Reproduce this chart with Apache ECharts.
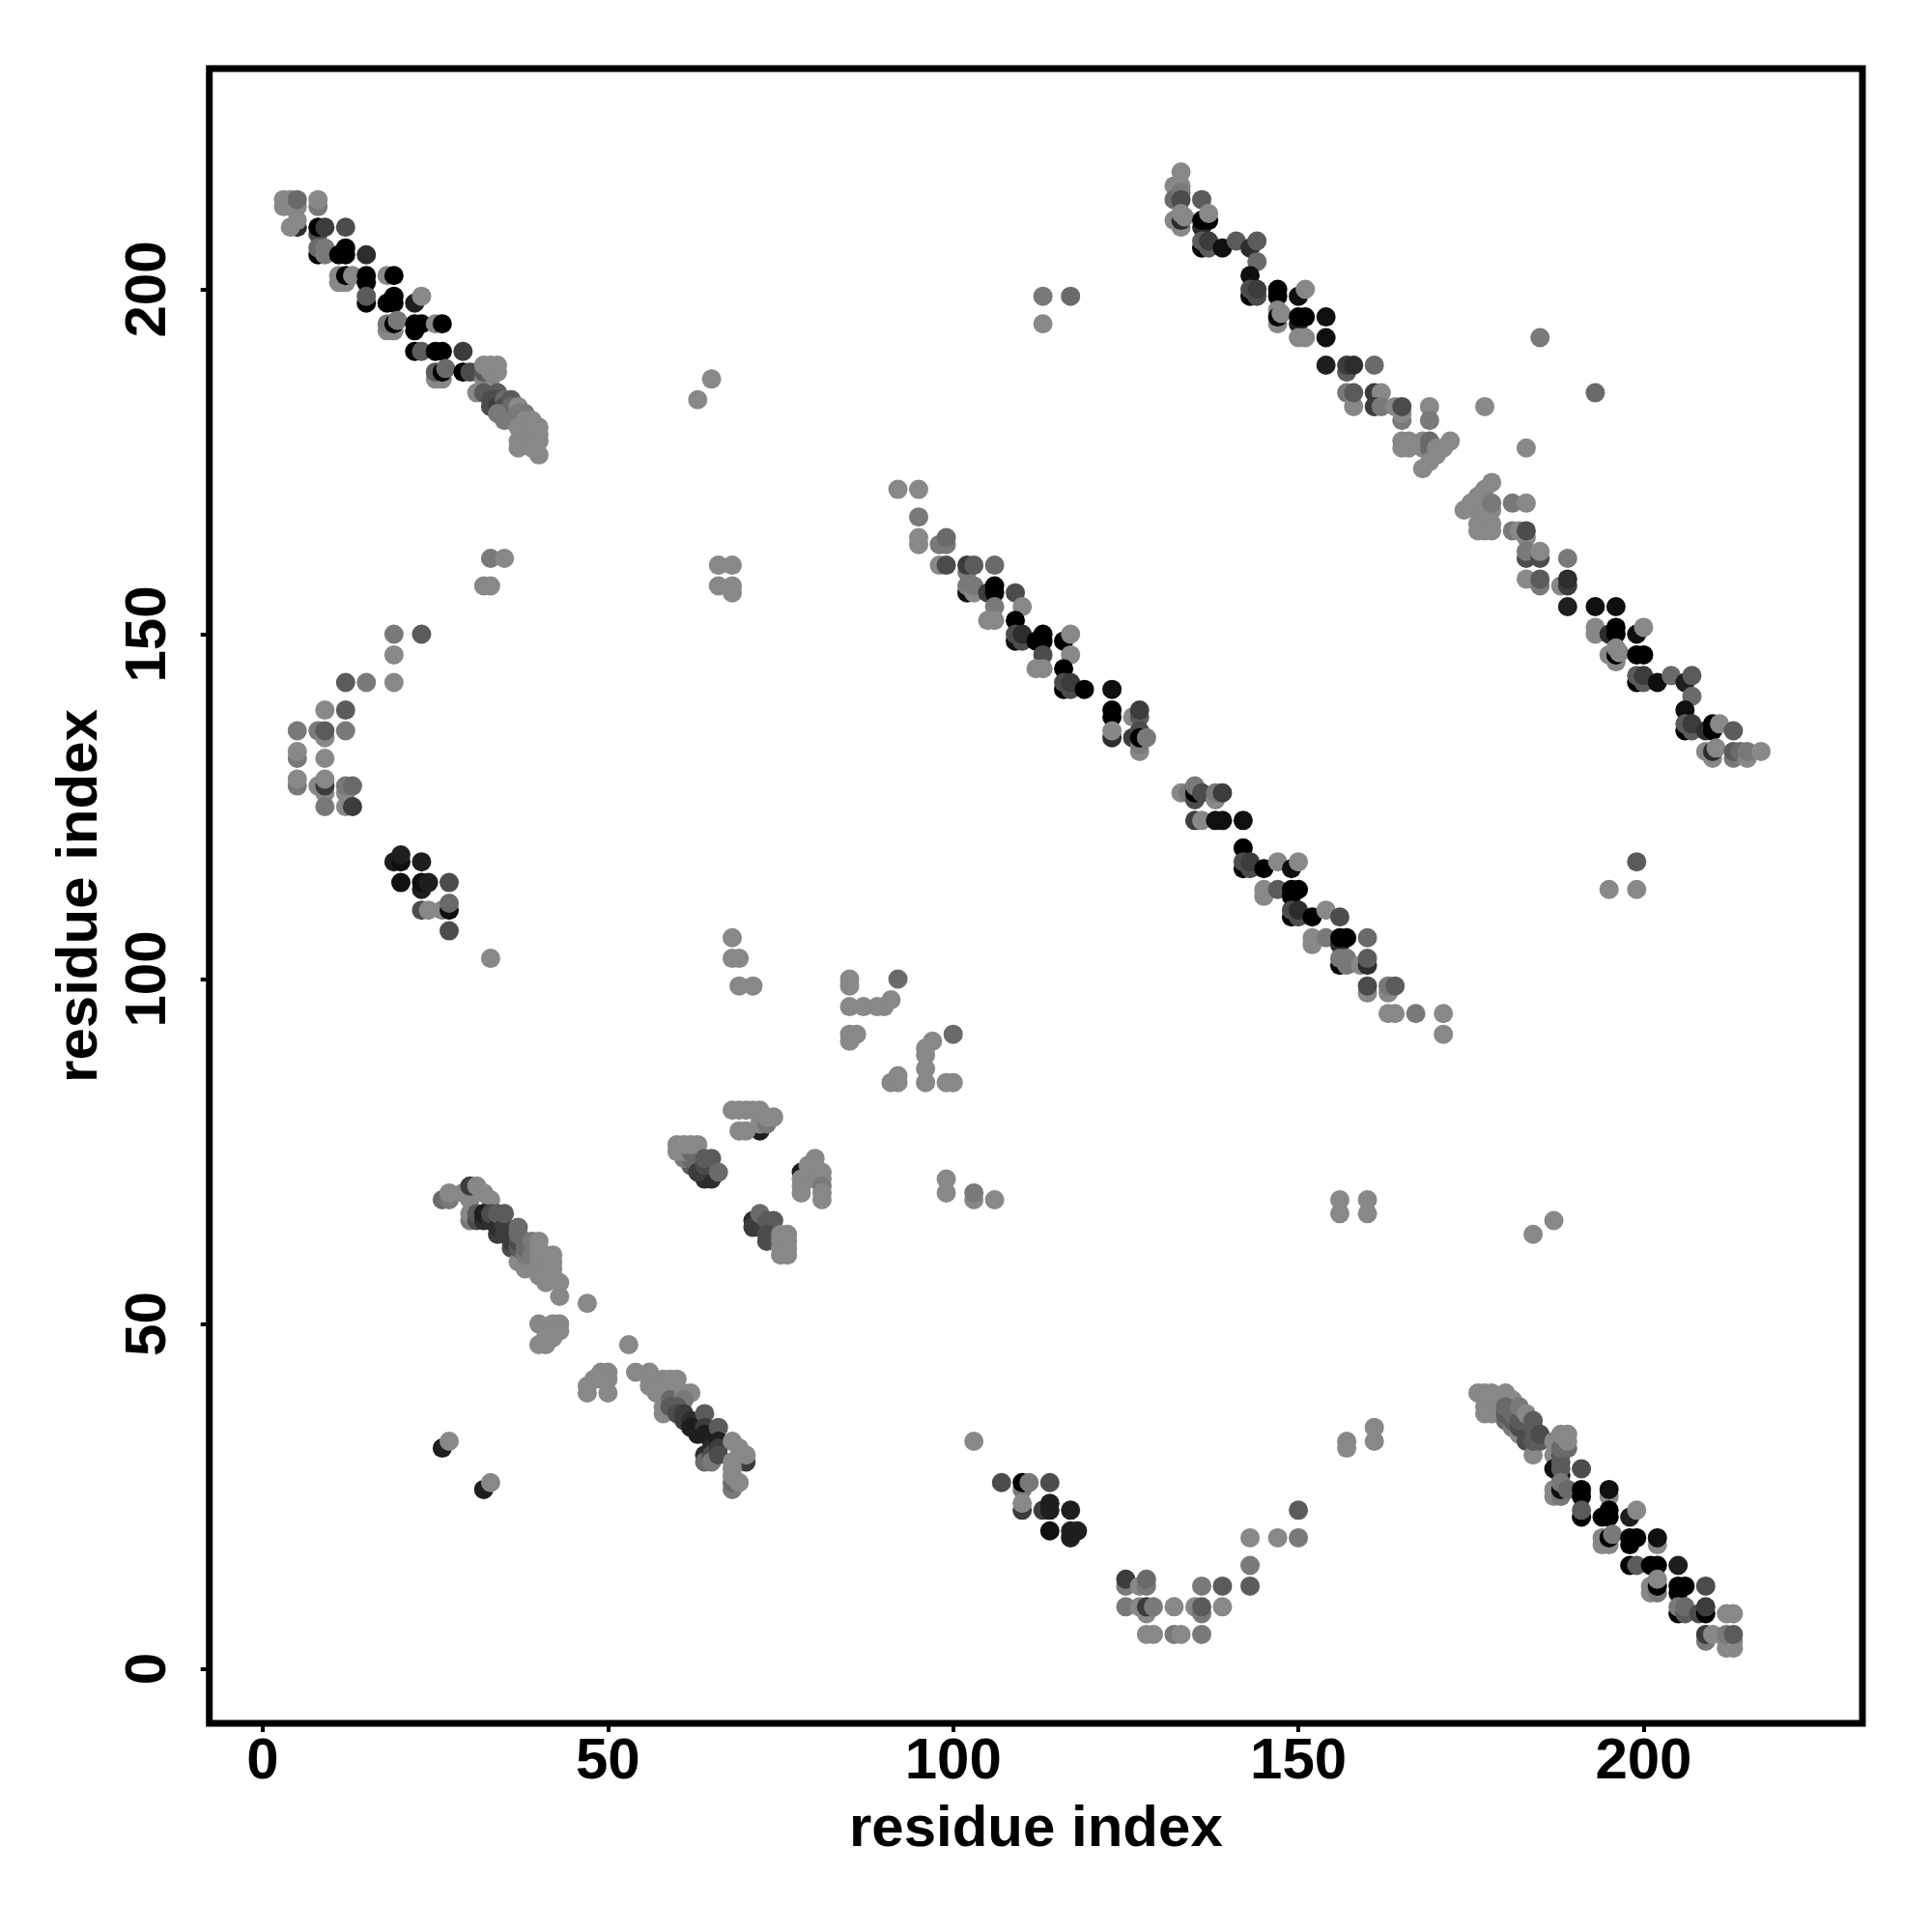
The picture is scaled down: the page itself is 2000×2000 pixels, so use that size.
<!DOCTYPE html>
<html>
<head>
<meta charset="utf-8">
<style>html,body{margin:0;padding:0;background:#fff}#c{width:2000px;height:2000px}</style>
<script src="https://cdn.jsdelivr.net/npm/echarts@6/dist/echarts.min.js"></script>
</head>
<body>
<div id="c"></div>
<script>
// Each contact: [residue i, residue j, strength 0 (weak) .. 9 (strong)]
const tickValues = [0, 50, 100, 150, 200];
const xAxisTitle = "residue index";
const yAxisTitle = "residue index";

const bandTopLeft = [
[3,213,0],[3,212,0],[4,213,0],[4,212,0],[5,212,0],[5,213,2],[8,212,1],[8,213,0],
[5,209,6],[4,209,0],[5,210,0],[8,208,4],[8,209,9],[9,209,5],[12,209,4],
[8,205,9],[8,206,2],[9,205,1],[9,206,1],[11,205,9],[12,205,9],[12,206,9],[15,205,6],
[11,201,0],[11,202,0],[12,201,0],[12,202,9],[13,202,0],[15,201,9],[15,202,9],[18,202,0],[19,202,9],
[15,198,9],[15,199,3],[18,198,9],[19,198,9],[19,199,9],[22,198,7],[23,199,0],
[18,194,0],[19,194,0],[18,195,1],[19,195,9],[19.5,195.5,1],[22,194,9],[22,195,9],[23,195,9],[25,195,0],[26,195,9],
[22,191,9],[23,191,3],[25,191,9],[26,191,9],[29,191,5],
[25,187,0],[26,187,0],[25,188,3],[26,188,9],[26.5,188.5,2],[29,188,9],[30,188,4],[31,188,4],
[32,187,0],[33,187,0],[32,188,3],[33,188,0],[34,188,0],[32,189,0],[33,189,0],[34,189,0],
[31,185,0],[32,185,3],[34,185,3],[33,184,4],[33,183,4],[34,184,4],[34,183,5],[35,184,2],[35,183,4],[35,182,1],
[36,184,3],[36,183,2],[36,182,2],[36,181,1],[35,181,1],[34,182,1],
[37,183,0],[37,182,1],[37,181,1],[37,180,0],[37,178,0],[37,177,0],[38,182,1],[38,181,0],[38,180,0],[38,179,0],[38,178,0],
[39,181,0],[39,180,0],[39,179,0],[39,178,0],[39,177,0],[40,180,0],[40,179,0],[40,178,0],[40,176,0]
];

const bandTopRight = [
[133,217,0],[132,215,0],[133,215,0],[132,213,2],[133,214,1],[133,213,4],[136,213,3],
[132,210,0],[133,209,0],[133,210,6],[133,211,0],[133.5,210.5,0],
[136,209,6],[136,210,9],[137,210,9],[137,211,0],
[136,206,9],[136,207,3],[137,206,3],[137,207,5],[139,206,8],[141,207,3],[143,206,6],[144,207,3],[144,204,2],
[143,202,8],[143,199,9],[143,200,4],[144,199,4],[144,200,5],
[147,199,9],[147,200,9],[147,197,0],[147,195,0],[147,196,9],[147.5,196.5,0],
[150,199,8],[151,200,0],[150,195,7],[150,196,9],[151,196,9],[154,196,8],[150,193,0],[151,193,0],[154,193,8],
[154,189,7],[157,188,3],[157,189,5],[158,189,6],[161,189,2],
[157,185,1],[158,183,0],[158,185,3],[161,185,5],[162,185,0],[161,183,5],[162,183,1],
[164,183,0],[165,181,1],[165,182,0],[165,183,4],[169,183,0],[169,181,1],[177,183,0],
[165,178,0],[165,177,0],[166,178,0],[166,177,0],[168,178,0],[168,177,0],[169,178,2],[169,177,2],[170,177,0],[172,178,0],[171,177,0],[170,176,0],[169,175,0],[168,174,0],
[183,177,0],
[176,169,2],[176,168,0],[177,169,1],[177,168,0],[178,172,0],[177,171,0],[176,170,0],[175,169,0],[174,168,0],[178,168,0],[178,169,1],
[176,166,0],[176,165,0],[177,166,0],[177,165,0],[178,166,0],[178,165,0],[181,169,1],[183,169,0],
[181,165,1],[182,165,0],[183,164,0],[183,165,4],
[183,161,4],[183,162,1],[185,161,4],[185,162,0],[189,161,1],
[183,158,0],[185,157,1],[185,158,3],[188,157,0],[189,157,5],[189,158,6],
[189,154,7],[193,154,8],[196,154,8],
[193,150,0],[193,151,0],[195,150,6],[196,150,9],[196,151,9],[199,150,8],[200,151,0],
[195,147,0],[196,146,0],[196,147,9],[196.5,147.3,0],[196,148,0],[199,147,9],[200,147,9],
[199,143,9],[199,144,3],[200,143,3],[200,144,5],[202,143,8],[204,144,2],[206,143,7],[207,144,3],[207,141,2],
[206,139,8],[206,136,9],[206,137,3],[207,136,3],[207,137,5],[209,136,6],[210,136,9],[210,137,9],[211,137,0],[213,136,3],
[209,133,0],[210,132,0],[210,133,6],[210.5,133.5,0],[213,132,1],[213,133,3],[214,133,2],[215,132,0],[215,133,1],[217,133,0]
];

const bandMiddle = [
[92,171,0],[95,171,0],[95,167,1],[95,163,0],[95,164,0],[98,163,1],[99,163,1],[99,164,2],
[98,160,0],[99,160,4],[102,159,1],[102,160,5],[103,160,3],[106,160,2],
[102,156,8],[102,157,1],[103,156,0],[103,157,1],[105,156,5],[106,156,9],[106,157,9],[109,156,4],[110,154,0],
[106,154,1],[105,152,0],[106,152,0],
[109,152,9],[109,149,8],[109,150,4],[110,149,4],[110,150,6],[112,149,9],[113,149,9],[113,150,9],[113,147,4],[112,145,0],[113,145,0],
[116,149,9],[117,150,0],[117,147,0],[116,145,9],[116,142,9],[116,143,4],[117,142,4],[117,143,5],[119,142,9],
[123,142,8],[123,138,9],[123,139,9],[123,135,6],[123,136,0],
[126,138,0],[127,138,3],[127,139,5],[126,135,5],[127,133,0],[127,134,1],[127,136,4],[127,135,9],[128,135,1],
[133,127,0],[134,127,1],[135,126,4],[135,127,9],[135,128,1],[136,127,4],[138,126,0],[138,127,1],[139,127,5],
[135,123,5],[136,123,0],[138,123,8],[139,123,8],[142,123,8],
[142,119,9],[142,116,9],[142,117,4],[143,116,4],[143,117,5],[145,116,9],[147,117,0],[149,116,8],[150,117,0],
[145,112,0],[145,113,0],[147,113,3],[149,112,9],[149,113,9],[150,113,9],
[149,109,9],[149,110,4],[150,109,4],[150,110,6],[152,109,9],[154,110,0],[156,109,4],
[152,105,0],[152,106,0],[154,106,1],[156,105,6],[156,106,9],[157,106,9],[160,106,2],
[156,102,9],[156,103,1],[157,102,1],[157,103,1],[159,102,0],[160,102,6],[160,103,3],
[160,98,0],[160,99,4],[163,98,0],[163,99,1],[164,99,3],
[163,95,0],[164,95,0],[167,95,1],[171,95,0],[171,92,0]
];

const archLeft = [
[33,161,1],[35,161,0],[32,157,0],[33,157,0],[63,184,0],[65,187,0],
[19,150,1],[23,150,3],[19,147,0],[12,143,3],[15,143,1],[19,143,0],
[9,139,0],[12,139,3],[5,136,1],[8,136,1],[9,135,0],[9,136,3],[12,136,1],
[5,132,1],[5,133,0],[9,132,0],[5,128,1],[5,129,0],[8,128,0],[9,127,0],[9,128,5],[9,129,0],[9,125,1],
[12,127,0],[12,128,1],[13,128,2],[12,125,0],[13,125,5],
[19,117,7],[20,117,8],[20,118,7],[23,117,7],[20,114,8],[23,113,7],[23,114,8],[24,114,7],[27,114,4],
[23,110,4],[24,110,0],[26,110,0],[27,110,8],[27,111,2],[27,107,4],[33,103,0]
];

const centralPatches = [
[66,160,0],[66,157,0],[68,160,0],[68,157,0],[68,156,0],
[68,106,0],[68,103,0],[69,103,0],[69,99,0],[71,99,0],
[85,99,0],[85,100,0],[92,100,2],
[85,96,0],[87,96,0],[89,96,0],[90,96,0],[91,97,0],
[85,91,0],[85,92,0],[86,92,0],[100,92,2],
[97,91,0],[96,90,0],[96,89,0],[96,87,0],[96,85,0],[91,85,0],[92,85,0],[92,86,0],[99,85,0],[100,85,0],
[72,78,7],[69,78,0],[70,78,0],[68,81,0],[69,81,0],[70,81,0],[71,81,0],[72,81,0],[72,79,0],[73,79,1],[73,80,0],[74,80,0],
[62,73,3],[61,74,1],[62,74,2],[60,75,0],[61,75,0],[62,75,2],[60,76,0],[61,76,0],[62,76,0],[63,76,0],
[64,71,6],[65,71,6],[63,72,5],[64,73,4],[64,74,3],[65,74,3],[66,72,2],
[78,72,7],[78,71,0],[78,70,0],[78,69,0],[79,73,0],[80,74,0],[80,73,0],[80,71,0],[81,72,0],[81,71,0],[81,70,1],[81,69,0],[81,68,0],
[99,71,0],[99,69,0],[103,68,0],[103,69,1],[106,68,0],
[71,65,6],[71,64,5],[72,64,5],[72,66,2],[73,65,3],[74,65,3],[73,62,4],[73,63,4],
[75,60,0],[75,61,0],[75,62,0],[75,63,0],[76,60,0],[76,61,0],[76,62,0],[76,63,0],
[156,68,0],[156,66,0],[160,68,0],[160,66,0],[184,63,0],[187,65,0],
[113,199,1],[113,195,0],[117,199,2],[185,193,1],[193,185,2],
[195,113,0],[199,113,0],[199,117,3]
];

const bandLowerLeft = [
[26,68,2],[27,68,1],[27,69,0],[29,69,0],[30,65,1],[30,66,0],[30,68,0],[30,70,5],[31,70,0],[32,69,0],[33,68,0],
[31,65,4],[31,66,3],[32,65,6],[32,66,7],[33,65,6],[33,66,4],[34,63,5],[34,64,6],[34,66,3],[35,63,5],[35,64,5],[35,66,3],
[36,61,4],[36,62,5],[36,63,5],[37,59,0],[37,61,3],[37,62,4],[37,63,2],[37,64,2],
[38,58,0],[38,60,1],[38,61,2],[38,62,2],[39,60,1],[39,62,1],
[40,57,0],[40,58,0],[40,59,0],[40,60,0],[40,61,0],[40,62,0],[41,56,0],[41,57,0],[42,57,0],[42,58,0],[42,59,0],[42,60,0],[43,56,0],[43,54,0],[47,53,0],
[40,50,0],[42,50,0],[43,50,0],[41,49,0],[42,49,0],[43,49,0],[41,48,0],[42,48,0],[40,47,0],[41,47,0],[53,47,0],
[47,40,0],[47,41,0],[48,42,0],[49,43,0],[50,43,0],[49,42,0],[50,42,0],[50,40,0],
[54,43,0],[56,43,0],[56,42,0],[58,42,0],[59,42,0],[60,42,0],[56,41,0],[57,41,0],[58,41,0],[59,41,0],[57,40,0],[58,40,0],[58,38,0],[58,37,0],
[59,40,0],[59,39,2],[59,38,3],[61,40,0],[62,40,0],[61,39,1],[60,38,3],[60,37,4],[61,37,5],[61,36,5],[62,36,6],[62,35,7],[63,35,7],[63,34,7],
[64,37,3],[64,35,5],[64,34,7],[64,31,6],[64,30,2],[65,33,7],[65,32,6],[65,31,4],[65,30,1],[66,35,3],[66,33,7],[66,32,5],[66,31,4],
[68,33,0],[69,32,0],[70,30,5],[70,31,0],[68,30,0],[68,29,0],[68,26,1],[68,27,2],[68,28,0],[69,27,0],
[26,32,7],[27,33,0],[32,26,7],[33,27,0]
];

const archBottom = [
[103,33,0],[107,27,4],[110,26,1],[110,27,9],[111,27,1],[114,27,4],[110,23,5],[110,24,0],[113,23,5],[114,23,7],[114,24,7],[117,23,7],
[114,20,8],[117,19,7],[117,20,7],[118,20,7],
[143,19,0],[143,15,1],[143,12,3],[136,12,1],[139,12,3],[147,19,0],[150,19,1],[150,23,3],
[125,12,1],[125,13,5],[127,12,0],[128,12,1],[128,13,2],
[125,9,1],[127,9,0],[128,8,0],[128,9,5],[129,9,1],[132,9,0],[135,9,0],[136,8,1],[136,9,3],[139,9,0],
[128,5,0],[129,5,0],[132,5,1],[133,5,0],[136,5,1],
[157,33,0],[157,32,0],[161,33,0],[161,35,0]
];

const bandBottomRight = [
[176,40,0],[177,40,0],[178,40,0],[180,40,0],[177,39,0],[178,39,0],[177,38,0],[178,38,0],[177,37,0],[178,37,0],
[180,39,0],[181,39,0],[180,36,2],[180,37,3],[180,38,2],[181,35,1],[181,36,3],[181,37,2],[182,34,0],[182,35,4],[182,36,3],[182,38,1],[183,37,0],
[183,33,4],[184,31,0],[184,33,3],[184,35,3],[184,36,3],[185,33,3],[185,34,4],
[187,31,0],[187,33,0],[187,29,8],[188,28,8],[188,29,3],[188,30,3],[188,31,3],[188,32,2],[188,34,0],[189,32,2],[189,33,0],[189,34,0],
[191,29,4],[187,25,0],[187,26,0],[188,25,1],[188,26,8],[188,27,1],[189,26,2],
[191,25,9],[191,26,9],[191,22,9],[191,23,3],[195,25,0],[195,26,8],[194,22,9],[195,22,9],[195,23,9],[198,22,7],[199,23,0],
[194,18,0],[194,19,0],[195,18,0],[195,19,9],[195.5,19.5,1],[198,18,9],[198,19,9],[199,19,9],[202,18,0],[202,19,8],
[198,15,9],[199,15,3],[201,15,9],[202,15,9],[205,15,7],
[201,11,0],[201,12,0],[202,11,1],[202,12,9],[202,13,0],[205,11,9],[205,12,9],[206,12,9],[209,12,4],
[205,8,9],[205,9,1],[206,8,3],[206,9,2],[208,8,4],[209,8,9],[209,9,5],[212,8,0],[213,8,0],
[209,4,1],[209,5,5],[210,5,0],[212,3,0],[213,3,0],[212,4,0],[213,4,0],[212,5,1],[213,5,3]
];

const allContacts = [].concat(bandLowerLeft, archBottom, bandBottomRight, centralPatches, bandMiddle, archLeft, bandTopLeft, bandTopRight);

function shade(s) {
  const g = Math.round(136 * (1 - s / 9));
  return "rgb(" + g + "," + g + "," + g + ")";
}

const font = { fontFamily: "Liberation Sans", fontWeight: "bold", fontSize: 60, color: "#000" };

const chart = echarts.init(document.getElementById("c"), null, { renderer: "canvas" });
chart.setOption({
  animation: false,
  backgroundColor: "#fff",
  grid: { show: true, left: 216.7, right: 72, top: 71, bottom: 216, borderColor: "#000", borderWidth: 7, backgroundColor: "transparent" },
  xAxis: {
    type: "value", min: -7.74, max: 231.7,
    name: xAxisTitle, nameLocation: "middle", nameGap: 80,
    nameTextStyle: font,
    axisLine: { show: false, onZero: false },
    axisTick: { show: true, length: 9, lineStyle: { color: "#000", width: 4 }, customValues: tickValues },
    axisLabel: { show: true, margin: 10, customValues: tickValues, ...font },
    splitLine: { show: false }
  },
  yAxis: {
    type: "value", min: -7.9, max: 232,
    name: yAxisTitle, nameLocation: "middle", nameGap: 103,
    nameTextStyle: font,
    axisLine: { show: false, onZero: false },
    axisTick: { show: true, length: 9, lineStyle: { color: "#000", width: 4 }, customValues: tickValues },
    axisLabel: { show: true, margin: 32, rotate: 90, customValues: tickValues, ...font },
    splitLine: { show: false }
  },
  series: [{
    type: "scatter",
    symbol: "circle",
    symbolSize: 20,
    data: allContacts,
    itemStyle: { color: function (p) { return shade(p.value[2]); }, opacity: 1 },
    encode: { x: 0, y: 1 },
    silent: true
  }]
});
</script>
</body>
</html>
